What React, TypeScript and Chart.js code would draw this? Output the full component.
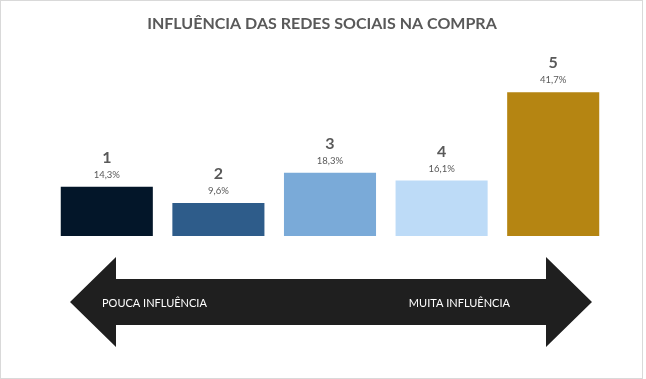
import React, { useEffect, useRef } from "react";
import { Chart, registerables } from "chart.js";

Chart.register(...registerables);

const TITLE = "INFLUÊNCIA DAS REDES SOCIAIS NA COMPRA";
const CATEGORIES = ["1", "2", "3", "4", "5"];
const VALUES = [14.3, 9.6, 18.3, 16.1, 41.7];
const BAR_COLORS = ["#031629", "#2E5C8A", "#7AAAD8", "#BDDBF7", "#B58512"];
const SCALE_LABELS = ["POUCA INFLUÊNCIA", "MUITA INFLUÊNCIA"];

const TEXT_GRAY = "#595959";
const FONT = "Lato, 'Open Sans', sans-serif";

const fmtPct = (v: number) => v.toFixed(1).replace(".", ",") + "%";

// Frame, title, value labels and the double-headed scale arrow
const decorPlugin = {
  id: "decor",
  beforeDraw(chart: any) {
    const { ctx, width, height } = chart;
    ctx.save();
    ctx.fillStyle = "#ffffff";
    ctx.fillRect(0, 0, width, height);
    ctx.strokeStyle = "#d9d9d9";
    ctx.lineWidth = 1;
    ctx.strokeRect(0.5, 0.5, width - 4, height - 1);
    ctx.restore();
  },
  afterDraw(chart: any) {
    const { ctx } = chart;
    ctx.save();

    // title
    ctx.fillStyle = TEXT_GRAY;
    ctx.textAlign = "center";
    ctx.textBaseline = "middle";
    ctx.font = `bold 16px ${FONT}`;
    ctx.fillText(TITLE, 322, 24);

    // category number and percentage above each bar
    const meta = chart.getDatasetMeta(0);
    meta.data.forEach((bar: any, i: number) => {
      ctx.font = `bold 16px ${FONT}`;
      ctx.fillText(CATEGORIES[i], bar.x, bar.y - 29);
      ctx.font = `9.5px ${FONT}`;
      ctx.fillText(fmtPct(VALUES[i]), bar.x, bar.y - 12);
    });

    // double-headed arrow
    const tipL = 70, baseL = 116, baseR = 546, tipR = 592;
    const midY = 302, shaftHalf = 23, headHalf = 45;
    ctx.fillStyle = "#1f1f1f";
    ctx.beginPath();
    ctx.moveTo(tipL, midY);
    ctx.lineTo(baseL, midY - headHalf);
    ctx.lineTo(baseL, midY - shaftHalf);
    ctx.lineTo(baseR, midY - shaftHalf);
    ctx.lineTo(baseR, midY - headHalf);
    ctx.lineTo(tipR, midY);
    ctx.lineTo(baseR, midY + headHalf);
    ctx.lineTo(baseR, midY + shaftHalf);
    ctx.lineTo(baseL, midY + shaftHalf);
    ctx.lineTo(baseL, midY + headHalf);
    ctx.closePath();
    ctx.fill();

    ctx.fillStyle = "#ffffff";
    ctx.font = `11px ${FONT}`;
    ctx.textAlign = "left";
    ctx.fillText(SCALE_LABELS[0], 102, midY + 1);
    ctx.textAlign = "right";
    ctx.fillText(SCALE_LABELS[1], 510, midY + 1);

    ctx.restore();
  },
};

export default function App() {
  const canvasRef = useRef<HTMLCanvasElement | null>(null);

  useEffect(() => {
    if (!canvasRef.current) return;
    const chart = new Chart(canvasRef.current, {
      type: "bar",
      data: {
        labels: CATEGORIES,
        datasets: [
          {
            data: VALUES,
            backgroundColor: BAR_COLORS,
            borderWidth: 0,
            barPercentage: 0.825,
            categoryPercentage: 1,
          },
        ],
      },
      options: {
        responsive: false,
        animation: false,
        layout: { padding: { left: 51, right: 37, top: 63.5, bottom: 143 } },
        plugins: {
          legend: { display: false },
          title: { display: false },
          tooltip: { enabled: false },
        },
        scales: {
          x: { display: false },
          y: { display: false, min: 0, max: 50 },
        },
      },
      plugins: [decorPlugin],
    });
    return () => chart.destroy();
  }, []);

  return (
    <div style={{ position: "fixed", left: 0, top: 0, width: 646, height: 379 }}>
      <canvas ref={canvasRef} width={646} height={379} />
    </div>
  );
}
